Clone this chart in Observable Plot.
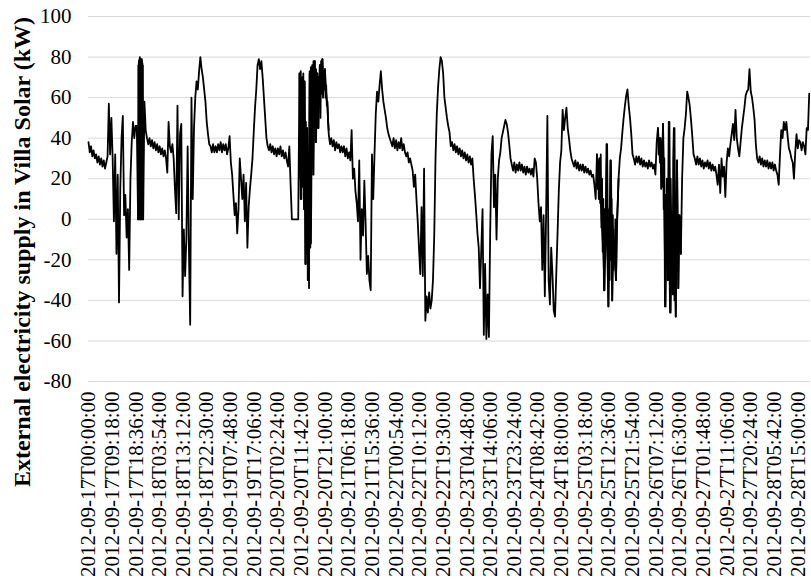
<!DOCTYPE html>
<html>
<head>
<meta charset="utf-8">
<script src="https://cdn.jsdelivr.net/npm/d3@7"></script>
<script src="https://cdn.jsdelivr.net/npm/@observablehq/plot@0.6"></script>
<style>
html, body { margin: 0; padding: 0; background: #fff; }
#chart { position: relative; width: 811px; height: 583px; }
#ytitle {
  position: absolute; left: 22px; top: 252px;
  transform: translate(-50%, -50%) rotate(-90deg);
  white-space: nowrap; line-height: 1;
  font-family: "Liberation Serif", "Times New Roman", Times, serif;
  font-weight: bold; font-size: 24px; color: #000;
}
</style>
</head>
<body>
<div id="chart"><div id="ytitle"></div></div>
<script>
// Series: external electricity supply (kW), sampled every half hour from the start time
const startTime = "2012-09-17T00:00:00";
const stepHours = 0.5;
const supplyKW = [
  38, 33, 36, 31, 34, 30, 32, 28, 31, 27, 30, 26, 29, 25, 28, 31, 57, 32, 50, 30,
  -1, 32, -17, 22, -41, 15, 40, 51, 2, 12, -9, 5, -25, 20, 38, 48, 40, 46, 46, 0,
  78, 0, 79, 0, 58, 44, 40, 37, 40, 36, 39, 35, 38, 34, 37, 33, 36, 32, 35, 31,
  34, 30, 23, 48, 36, 33, 37, 30, 15, 3, 56, 0, 42, 47, -38, -5, -28, -10, 36, -15,
  -52, 60, 10, 45, 60, 68, 64, 73, 80, 74, 70, 64, 58, 48, 42, 37, 36, 33, 37, 33,
  36, 33, 37, 34, 38, 33, 37, 34, 37, 32, 35, 41, 28, 22, 12, 2, 8, -7, 5, 30,
  20, 10, 22, -1, 18, -14, 6, 15, 22, 30, 43, 55, 64, 76, 79, 74, 78, 70, 60, 50,
  40, 36, 34, 37, 33, 36, 32, 35, 31, 35, 32, 36, 31, 34, 30, 33, 29, 26, 36, 17,
  0, 0, 0, 0, 0, 0, 72, 10, 70, 18, 68, -22, 45, -30, 72, -12, 75, 22, 78, 38,
  72, 45, 76, 62, 79, 66, 74, 62, 55, 42, 37, 40, 36, 39, 34, 38, 35, 37, 33, 36,
  33, 36, 31, 35, 30, 33, 29, 44, 20, 25, 14, 8, -1, 29, -20, 5, -8, 19, -2, -27,
  -18, -30, -35, 32, 10, 32, 52, 63, 58, 66, 73, 64, 58, 54, 50, 45, 42, 40, 38, 36,
  40, 35, 39, 34, 38, 35, 40, 34, 37, 33, 31, 33, 28, 30, 27, 24, 16, 22, 10, -1,
  -14, -27, 6, -28, 25, -50, -38, -46, -36, -44, -40, -30, -8, 30, 52, 65, 74, 80, 78, 72,
  60, 55, 50, 46, 43, 36, 38, 34, 37, 33, 36, 32, 35, 31, 34, 30, 33, 29, 32, 28,
  31, 27, 30, 20, 12, 3, -7, -14, -34, -15, 5, -57, -22, -59, -37, -58, -7, 32, 41, 6,
  22, -10, 20, 29, 33, 40, 43, 46, 49, 47, 43, 37, 30, 27, 24, 28, 23, 27, 24, 28,
  24, 27, 23, 26, 22, 26, 23, 25, 22, 25, 21, 30, 28, 20, 8, -1, 6, -25, 2, -38,
  2, 51, -30, -42, -14, -27, -45, -48, -27, -7, 14, 28, 34, 54, 44, 50, 55, 45, 40, 34,
  30, 28, 26, 29, 25, 28, 24, 27, 24, 27, 23, 26, 23, 25, 22, 24, 21, 22, 17, 10,
  32, 22, 30, 10, -4, -16, -35, 2, 37, -43, 2, 29, -40, -5, -21, -30, 2, 20, 30, 35,
  43, 50, 56, 61, 64, 56, 50, 42, 32, 30, 27, 31, 28, 31, 27, 30, 26, 29, 26, 28,
  25, 29, 26, 28, 25, 27, 22, 38, 45, 32, 40, 25, 47, 5, -43, 12, -30, 48, -46, -4,
  -37, 45, -48, 29, -34, 2, -17, 20, 40, 45, 52, 63, 60, 56, 49, 41, 32, 30, 27, 31,
  27, 30, 26, 29, 25, 28, 26, 29, 25, 28, 24, 27, 24, 26, 22, 17, 27, 13, 30, 21,
  26, 11, 28, 35, 31, 37, 42, 47, 39, 54, 40, 35, 31, 38, 45, 50, 55, 61, 63, 64,
  74, 63, 60, 55, 49, 37, 30, 28, 31, 27, 30, 26, 29, 26, 29, 25, 28, 25, 28, 24,
  27, 24, 22, 17, 32, 44, 40, 48, 44, 48, 41, 35, 33, 30, 28, 20, 33, 42, 35, 39,
  38, 34, 38, 36, 32, 45, 44, 62
];

// Bursts of rapid switching, read at a finer time step
const burst1Start = "2012-09-17T19:30:00";
const burst1StepHours = 0.1;
const burst1KW = [0, 76, 0, 78, 0, 79, 0, 80, 0, 79, 0, 79, 0, 78, 0, 78, 0, 77, 0, 76, 0];

const burst2Start = "2012-09-20T11:00:00";
const burst2StepHours = 0.25;
const burst2KW = [
  72, 20, 73, 10, 70, 16, 72, 5, 68, -22, 48, -17, 45, -30, 20, -34,
  73, -14, 75, 22, 76, 40, 78, 50, 78, 38, 74, 55, 72, 45, 70, 60,
  76, 50, 78, 62, 79, 60, 70, 64, 74, 60, 66, 56, 58, 48, 44
];

const burst3Start = "2012-09-25T08:00:00";
const burst3StepHours = 0.25;
const burst3KW = [
  32, 15, 22, 10, 30, 8, 32, -4, 20, -16, 10, -35, 5, -20, 2, 37,
  -10, -27, -43, 5, -30, 29, -20, 10, -40, 2, -25, -10, -21, 0,
  -30, -5, 2, 10, 20
];

const burst4Start = "2012-09-26T08:00:00";
const burst4StepHours = 0.25;
const burst4KW = [
  45, 32, 40, 28, 40, 15, 35, 16, 47, 5, 30, -43, 12, -20, 20, -30,
  10, 48, -20, -46, 20, -4, -30, -37, 30, 45, -40, -20, -48, 10,
  29, -10, -34, 2, -10, 0, -17
];

// Category tick labels on the x axis
const tickLabels = [
  "2012-09-17T00:00:00", "2012-09-17T09:18:00", "2012-09-17T18:36:00",
  "2012-09-18T03:54:00", "2012-09-18T13:12:00", "2012-09-18T22:30:00",
  "2012-09-19T07:48:00", "2012-09-19T17:06:00", "2012-09-20T02:24:00",
  "2012-09-20T11:42:00", "2012-09-20T21:00:00", "2012-09-21T06:18:00",
  "2012-09-21T15:36:00", "2012-09-22T00:54:00", "2012-09-22T10:12:00",
  "2012-09-22T19:30:00", "2012-09-23T04:48:00", "2012-09-23T14:06:00",
  "2012-09-23T23:24:00", "2012-09-24T08:42:00", "2012-09-24T18:00:00",
  "2012-09-25T03:18:00", "2012-09-25T12:36:00", "2012-09-25T21:54:00",
  "2012-09-26T07:12:00", "2012-09-26T16:30:00", "2012-09-27T01:48:00",
  "2012-09-27T11:06:00", "2012-09-27T20:24:00", "2012-09-28T05:42:00",
  "2012-09-28T15:00:00"
];

const yTicks = [-80, -60, -40, -20, 0, 20, 40, 60, 80, 100];
const yTitle = "External electricity supply in Villa Solar (kW)";

const t0 = Date.parse(startTime + "Z");
const hoursOf = s => (Date.parse(s + "Z") - t0) / 3600000;
const toPoints = (values, start, step) => {
  const h0 = hoursOf(start);
  return values.map((v, i) => ({h: h0 + i * step, v}));
};
const series = toPoints(supplyKW, startTime, stepHours);
const bursts = [
  toPoints(burst1KW, burst1Start, burst1StepHours),
  toPoints(burst2KW, burst2Start, burst2StepHours),
  toPoints(burst3KW, burst3Start, burst3StepHours),
  toPoints(burst4KW, burst4Start, burst4StepHours)
];
const tickHours = tickLabels.map(hoursOf);
const labelByHour = new Map(tickHours.map((h, i) => [h, tickLabels[i]]));

const serif = '"Liberation Serif", "Times New Roman", Times, serif';
const lineStyle = {x: "h", y: "v", stroke: "#000", strokeWidth: 1.8};

const chart = Plot.plot({
  width: 811,
  height: 583,
  marginTop: 16,
  marginBottom: 202,
  marginLeft: 88,
  marginRight: 1,
  style: {fontFamily: serif, fontSize: "21px", color: "#000", background: "#fff", overflow: "visible"},
  x: {type: "linear", domain: [0, 284]},
  y: {domain: [-80, 100]},
  marks: [
    Plot.gridY(yTicks, {stroke: "#d9d9d9", strokeOpacity: 1, strokeWidth: 1}),
    Plot.axisY(yTicks, {tickSize: 0, tickPadding: 17, tickFormat: d => String(d), label: null, fontSize: 21}),
    Plot.axisX(tickHours, {tickSize: 0, tickRotate: -90, tickPadding: 10, tickFormat: h => labelByHour.get(h), label: null, fontSize: 21}),
    Plot.lineY(series, lineStyle),
    ...bursts.map(b => Plot.lineY(b, lineStyle))
  ]
});
const holder = document.getElementById("chart");
holder.insertBefore(chart, holder.firstChild);
document.getElementById("ytitle").textContent = yTitle;
</script>
</body>
</html>
